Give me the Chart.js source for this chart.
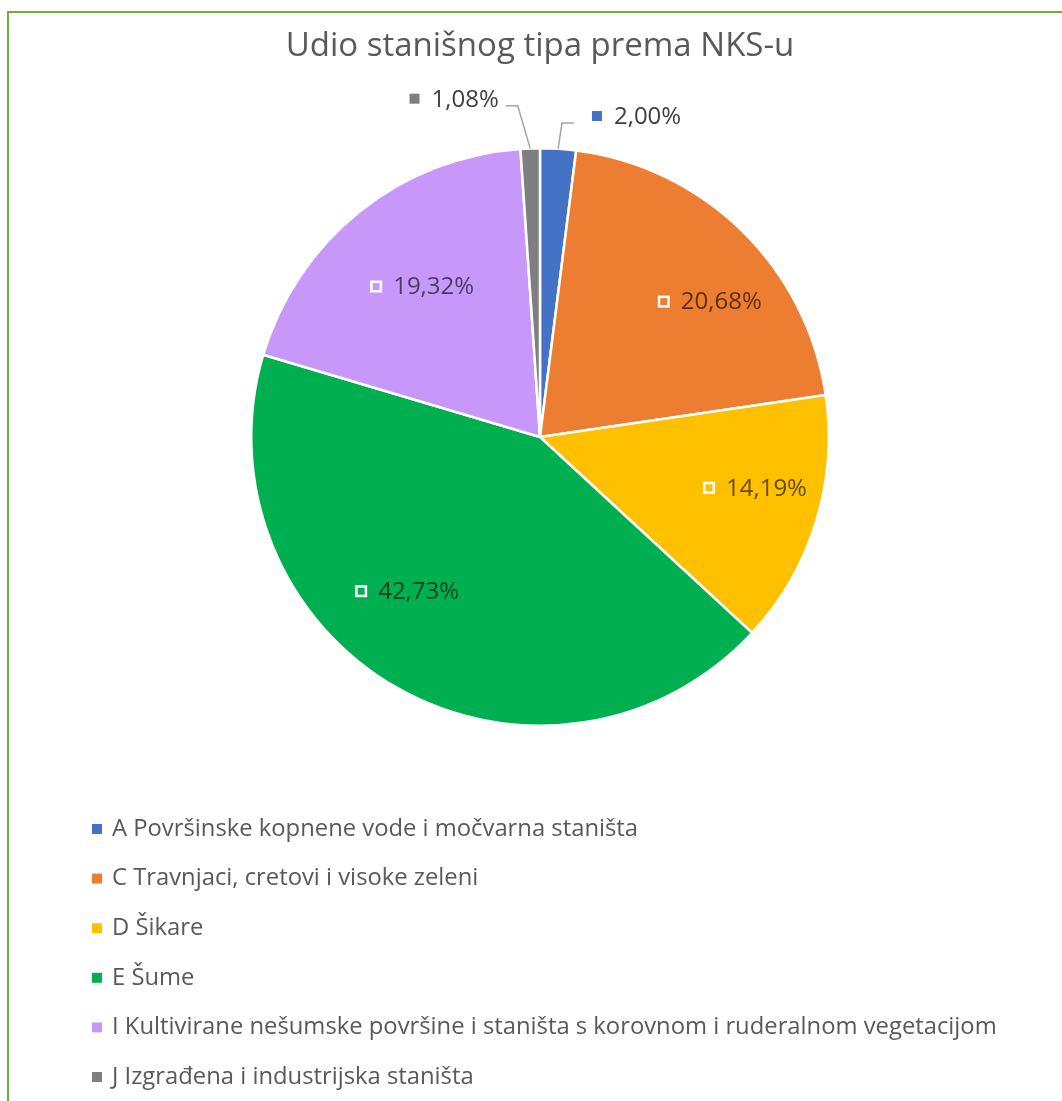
<!DOCTYPE html>
<html>
<head>
<meta charset="utf-8">
<script src="https://cdn.jsdelivr.net/npm/chart.js@4.4.1/dist/chart.umd.min.js"></script>
<style>
    body { margin: 0; background: #fff; }
    #wrap { position: relative; width: 1062px; height: 1101px; overflow: hidden; }
    #frame {
        position: absolute; left: 7px; top: 11px; width: 1100px; height: 1200px;
        border-top: 2px solid #70AD47; border-left: 2px solid #70AD47;
    }
    #myChart { position: absolute; left: 0; top: 0; }
</style>
</head>
<body>
<div id="wrap">
    <div id="frame"></div>
    <canvas id="myChart" width="1062" height="1101"></canvas>
</div>
<script>
const labels = [
    'A Površinske kopnene vode i močvarna staništa',
    'C Travnjaci, cretovi i visoke zeleni',
    'D Šikare',
    'E Šume',
    'I Kultivirane nešumske površine i staništa s korovnom i ruderalnom vegetacijom',
    'J Izgrađena i industrijska staništa'
];
const shares = [2.00, 20.68, 14.19, 42.73, 19.32, 1.08];
const sliceColors = ['#4472C4', '#ED7D31', '#FFC000', '#00B050', '#C897FA', '#7F7F7F'];

// gdje ide koja oznaka: kut pomaka (stupnjevi) i udio radijusa
const labelPlace = [
    { outside: true, da: 0.4, rf: 1.09, dir: 1 },
    { da: 7.0, rf: 0.752 },
    { da: -3.9, rf: 0.765 },
    { da: 11.1, rf: 0.705 },
    { da: 0.6, rf: 0.662 },
    { outside: true, da: -1.9, rf: 1.15, dir: -1 }
];

const FONT = '"Open Sans", "Noto Sans", sans-serif';

function fmt(v) {
    return v.toFixed(2).replace('.', ',') + '%';
}

const pieLabels = {
    id: 'pieLabels',
    afterDatasetsDraw(chart) {
        const ctx = chart.ctx;
        const meta = chart.getDatasetMeta(0);
        ctx.save();
        ctx.font = '24px ' + FONT;
        ctx.textBaseline = 'middle';
        meta.data.forEach((arc, i) => {
            const p = arc.getProps(['x', 'y', 'startAngle', 'endAngle', 'outerRadius'], true);
            const mid = (p.startAngle + p.endAngle) / 2;
            const pl = labelPlace[i];
            const ang = mid + pl.da * Math.PI / 180;
            const text = fmt(shares[i]);
            const tw = ctx.measureText(text).width;

            if (pl.outside) {
                const ax = p.x + p.outerRadius * Math.cos(mid);
                const ay = p.y + p.outerRadius * Math.sin(mid);
                const ex = p.x + p.outerRadius * pl.rf * Math.cos(ang);
                const ey = p.y + p.outerRadius * pl.rf * Math.sin(ang);
                const hx = ex + pl.dir * 12;
                ctx.strokeStyle = '#A6A6A6';
                ctx.lineWidth = 1.5;
                ctx.beginPath();
                ctx.moveTo(ax, ay);
                ctx.lineTo(ex, ey);
                ctx.lineTo(hx, ey);
                ctx.stroke();

                const ly = ey - 7;
                const groupW = 10 + 12 + tw;
                const left = pl.dir > 0 ? hx + 18 : hx - 7 - groupW;
                ctx.fillStyle = sliceColors[i];
                ctx.fillRect(left, ly - 5, 10, 10);
                ctx.fillStyle = '#404040';
                ctx.textAlign = 'left';
                ctx.fillText(text, left + 22, ly + 1);
            } else {
                const cx = p.x + p.outerRadius * pl.rf * Math.cos(ang);
                const cy = p.y + p.outerRadius * pl.rf * Math.sin(ang);
                const groupW = 12 + 11 + tw;
                const left = cx - groupW / 2;
                ctx.fillStyle = sliceColors[i];
                ctx.strokeStyle = '#fff';
                ctx.lineWidth = 2.5;
                ctx.fillRect(left, cy - 6, 12, 12);
                ctx.strokeRect(left + 1.25, cy - 4.75, 9.5, 9.5);
                ctx.fillStyle = 'rgba(0, 0, 0, 0.62)';
                ctx.textAlign = 'left';
                ctx.fillText(text, left + 23, cy + 1);
            }
        });
        ctx.restore();
    }
};

const listLegend = {
    id: 'listLegend',
    afterDraw(chart) {
        const ctx = chart.ctx;
        const area = chart.chartArea;
        ctx.save();
        ctx.font = '23.8px ' + FONT;
        ctx.textBaseline = 'middle';
        ctx.textAlign = 'left';
        labels.forEach((lab, i) => {
            const y = area.bottom + 102 + i * 49.6;
            ctx.fillStyle = sliceColors[i];
            ctx.fillRect(92, y - 5, 10, 10);
            ctx.fillStyle = '#595959';
            ctx.fillText(lab, 112, y);
        });
        ctx.restore();
    }
};

document.addEventListener("DOMContentLoaded", function() {
    const ctx = document.getElementById('myChart').getContext('2d');

    const config = {
        type: 'pie',
        data: {
            labels: labels,
            datasets: [{
                data: shares,
                backgroundColor: sliceColors,
                borderColor: '#ffffff',
                borderWidth: 2.5
            }]
        },
        options: {
            responsive: false,
            animation: false,
            layout: {
                padding: { left: 250, right: 232, top: 0, bottom: 374 }
            },
            plugins: {
                legend: { display: false },
                tooltip: { enabled: false },
                title: {
                    display: true,
                    text: 'Udio stanišnog tipa prema NKS-u',
                    color: '#595959',
                    font: { family: FONT, size: 33, weight: '400', lineHeight: 1.2 },
                    padding: { top: 27, bottom: 80.4 }
                }
            }
        },
        plugins: [pieLabels, listLegend]
    };

    const myChart = new Chart(ctx, config);
});
</script>
</body>
</html>
